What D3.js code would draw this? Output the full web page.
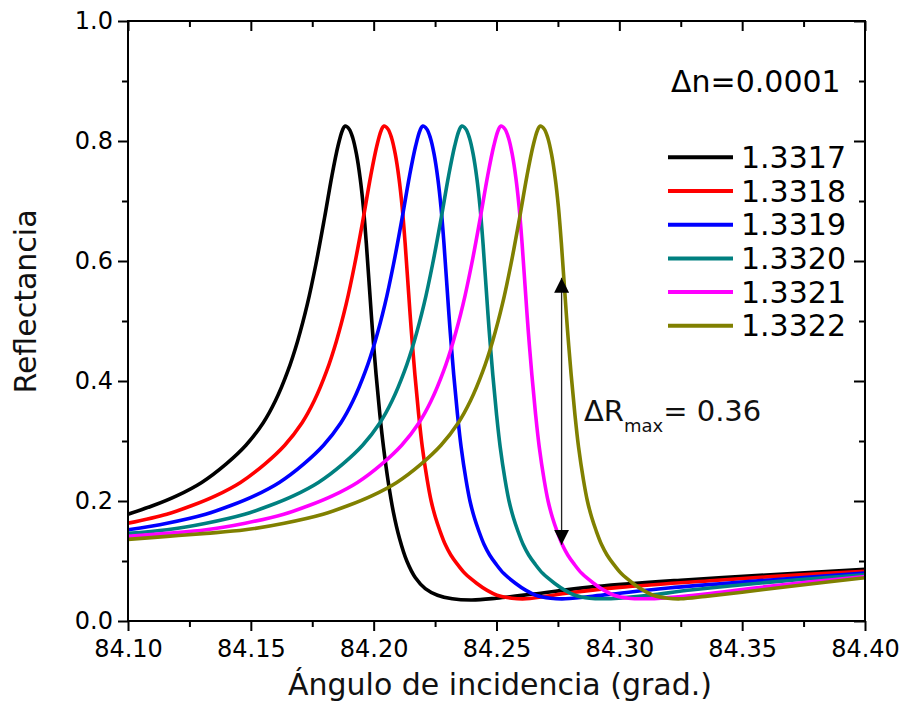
<!DOCTYPE html>
<html>
<head>
<meta charset="utf-8">
<script src="https://cdn.jsdelivr.net/npm/d3@7"></script>
<style>
  html, body { margin: 0; padding: 0; background: #fff; }
  svg { display: block; font-family: "DejaVu Sans", Verdana, sans-serif; }
</style>
</head>
<body>
<svg id="chart" width="915" height="713"></svg>
<script>
// ---------- data ----------
const seriesNames = ["1.3317", "1.3318", "1.3319", "1.3320", "1.3321", "1.3322"];
const seriesColors = ["#000000", "#ff0000", "#0000ff", "#008080", "#ff00ff", "#808000"];

const s13317 = [[84.100,0.178],[84.110,0.192],[84.120,0.209],[84.130,0.231],[84.140,0.262],[84.148,0.293],[84.155,0.330],[84.160,0.367],[84.165,0.416],[84.169,0.466],[84.173,0.528],[84.1765,0.595],[84.180,0.672],[84.183,0.742],[84.1855,0.792],[84.1873,0.818],[84.1884,0.825],
  [84.1900,0.820],[84.1915,0.805],[84.1930,0.778],[84.1945,0.738],[84.1958,0.690],[84.1970,0.630],[84.1982,0.560],[84.1995,0.485],[84.2010,0.410],[84.2025,0.345],[84.2040,0.290],[84.2060,0.230],[84.2080,0.182],[84.2105,0.138],[84.2135,0.100],[84.2170,0.072],[84.2210,0.054],[84.2260,0.043],[84.2320,0.037],[84.2400,0.035],[84.2500,0.038],[84.2650,0.045],[84.2870,0.056],[84.3250,0.068],[84.3650,0.078],[84.4000,0.086]];
const s13318 = [[84.100,0.163],[84.1158,0.178],[84.1258,0.192],[84.1358,0.209],[84.1458,0.231],[84.1558,0.262],[84.1638,0.293],[84.1708,0.330],[84.1758,0.367],[84.1808,0.416],[84.1848,0.466],[84.1888,0.528],[84.1923,0.595],[84.1958,0.672],[84.1988,0.742],[84.2013,0.792],[84.2031,0.818],[84.2042,0.825],
  [84.2058,0.820],[84.2073,0.805],[84.2088,0.778],[84.2103,0.738],[84.2116,0.690],[84.2128,0.630],[84.2140,0.560],[84.2153,0.485],[84.2168,0.410],[84.2183,0.345],[84.2198,0.290],[84.2218,0.235],[84.2234,0.200],[84.2252,0.172],[84.2270,0.150],[84.2292,0.127],[84.2314,0.110],[84.2338,0.096],[84.2372,0.079],[84.2419,0.063],[84.2462,0.051],[84.2502,0.043],[84.2562,0.038],[84.2620,0.037],[84.2800,0.047],[84.3000,0.056],[84.3400,0.068],[84.3700,0.076],[84.4000,0.083]];
const s13319 = [[84.100,0.152],[84.1159,0.163],[84.1316,0.178],[84.1416,0.192],[84.1516,0.209],[84.1616,0.231],[84.1716,0.262],[84.1796,0.293],[84.1866,0.330],[84.1916,0.367],[84.1966,0.416],[84.2006,0.466],[84.2046,0.528],[84.2081,0.595],[84.2116,0.672],[84.2146,0.742],[84.2171,0.792],[84.2189,0.818],[84.2200,0.825],
  [84.2216,0.820],[84.2231,0.805],[84.2246,0.778],[84.2261,0.738],[84.2274,0.690],[84.2286,0.630],[84.2298,0.560],[84.2311,0.485],[84.2326,0.410],[84.2341,0.345],[84.2356,0.290],[84.2376,0.235],[84.2392,0.200],[84.2410,0.172],[84.2428,0.150],[84.2450,0.127],[84.2472,0.110],[84.2496,0.096],[84.2530,0.079],[84.2577,0.063],[84.2620,0.051],[84.2660,0.043],[84.2720,0.038],[84.2780,0.037],[84.2950,0.044],[84.3200,0.055],[84.3600,0.068],[84.4000,0.080]];
const s13320 = [[84.100,0.146],[84.1159,0.152],[84.1318,0.163],[84.1475,0.178],[84.1575,0.192],[84.1675,0.209],[84.1775,0.231],[84.1875,0.262],[84.1955,0.293],[84.2025,0.330],[84.2075,0.367],[84.2125,0.416],[84.2165,0.466],[84.2205,0.528],[84.2240,0.595],[84.2275,0.672],[84.2305,0.742],[84.2330,0.792],[84.2348,0.818],[84.2359,0.825],
  [84.2375,0.820],[84.2390,0.805],[84.2405,0.778],[84.2420,0.738],[84.2433,0.690],[84.2445,0.630],[84.2457,0.560],[84.2470,0.485],[84.2485,0.410],[84.2500,0.345],[84.2515,0.290],[84.2535,0.235],[84.2551,0.200],[84.2569,0.172],[84.2587,0.150],[84.2609,0.127],[84.2631,0.110],[84.2655,0.096],[84.2689,0.079],[84.2736,0.063],[84.2779,0.051],[84.2819,0.043],[84.2879,0.038],[84.2940,0.037],[84.3080,0.041],[84.3300,0.052],[84.3650,0.066],[84.4000,0.077]];
const s13321 = [[84.100,0.141],[84.1159,0.146],[84.1318,0.152],[84.1477,0.163],[84.1634,0.178],[84.1734,0.192],[84.1834,0.209],[84.1934,0.231],[84.2034,0.262],[84.2114,0.293],[84.2184,0.330],[84.2234,0.367],[84.2284,0.416],[84.2324,0.466],[84.2364,0.528],[84.2399,0.595],[84.2434,0.672],[84.2464,0.742],[84.2489,0.792],[84.2507,0.818],[84.2518,0.825],
  [84.2534,0.820],[84.2549,0.805],[84.2564,0.778],[84.2579,0.738],[84.2592,0.690],[84.2604,0.630],[84.2616,0.560],[84.2629,0.485],[84.2644,0.410],[84.2659,0.345],[84.2674,0.290],[84.2694,0.235],[84.2710,0.200],[84.2728,0.172],[84.2746,0.150],[84.2768,0.127],[84.2790,0.110],[84.2814,0.096],[84.2848,0.079],[84.2895,0.063],[84.2938,0.051],[84.2978,0.043],[84.3038,0.038],[84.3100,0.037],[84.3200,0.039],[84.3350,0.045],[84.3550,0.055],[84.3800,0.066],[84.4000,0.074]];
const s13322 = [[84.100,0.136],[84.1159,0.141],[84.1318,0.146],[84.1477,0.152],[84.1636,0.163],[84.1794,0.178],[84.1894,0.192],[84.1994,0.209],[84.2094,0.231],[84.2194,0.262],[84.2274,0.293],[84.2344,0.330],[84.2394,0.367],[84.2444,0.416],[84.2484,0.466],[84.2524,0.528],[84.2559,0.595],[84.2594,0.672],[84.2624,0.742],[84.2649,0.792],[84.2667,0.818],[84.2678,0.825],
  [84.2694,0.820],[84.2709,0.805],[84.2724,0.778],[84.2739,0.738],[84.2752,0.690],[84.2764,0.630],[84.2776,0.560],[84.2789,0.485],[84.2804,0.410],[84.2819,0.345],[84.2834,0.290],[84.2854,0.235],[84.2870,0.200],[84.2888,0.172],[84.2906,0.150],[84.2928,0.127],[84.2950,0.110],[84.2974,0.096],[84.3008,0.079],[84.3055,0.063],[84.3098,0.051],[84.3138,0.043],[84.3198,0.038],[84.3250,0.037],[84.3350,0.041],[84.3500,0.048],[84.3700,0.058],[84.4000,0.072]];
const seriesValues = [s13317, s13318, s13319, s13320, s13321, s13322];

const xTicks = [84.10, 84.15, 84.20, 84.25, 84.30, 84.35, 84.40];
const xMinorTicks = [84.125, 84.175, 84.225, 84.275, 84.325, 84.375];
const yTicks = [0.0, 0.2, 0.4, 0.6, 0.8, 1.0];
const yMinorTicks = [0.1, 0.3, 0.5, 0.7, 0.9];

const xTitle = "Ángulo de incidencia (grad.)";
const yTitle = "Reflectancia";
const legendTitle = "\u0394n=0.0001";
const arrowX = 84.2765, arrowTop = 0.572, arrowBottom = 0.127;
const annotationPos = [84.2856, 0.334];

// ---------- layout ----------
const svg = d3.select("#chart");
const L = 128, R = 865, T = 21, B = 621;
const x = d3.scaleLinear().domain([84.10, 84.40]).range([L, R]);
const y = d3.scaleLinear().domain([0, 1]).range([B, T]);

const defs = svg.append("defs");
defs.append("clipPath").attr("id", "clip")
  .append("rect").attr("x", L).attr("y", T).attr("width", R - L).attr("height", B - T);

// curves
const line = d3.line().x(d => x(d[0])).y(d => y(d[1])).curve(d3.curveCatmullRom.alpha(0.5));
const curves = svg.append("g").attr("clip-path", "url(#clip)");
seriesValues.forEach((s, i) => {
  curves.append("path").attr("d", line(s)).attr("fill", "none")
    .attr("stroke", seriesColors[i]).attr("stroke-width", 3.6)
    .attr("stroke-linejoin", "round");
});

// axes
const fs = 24;
svg.append("g").attr("transform", `translate(0,${B})`)
  .call(d3.axisBottom(x).tickValues(xTicks).tickSize(10).tickPadding(9).tickFormat(d3.format(".2f")));
svg.append("g").attr("transform", `translate(${L},0)`)
  .call(d3.axisLeft(y).tickValues(yTicks).tickSize(10).tickPadding(5).tickFormat(d3.format(".1f")));
svg.append("g").attr("transform", `translate(0,${T})`)
  .call(d3.axisTop(x).tickValues(xTicks).tickSize(-10).tickFormat(""));
svg.append("g").attr("transform", `translate(${R},0)`)
  .call(d3.axisRight(y).tickValues(yTicks).tickSize(-11).tickFormat(""));
// minor ticks
svg.append("g").attr("transform", `translate(0,${B})`)
  .call(d3.axisBottom(x).tickValues(xMinorTicks).tickSize(6).tickFormat(""));
svg.append("g").attr("transform", `translate(${L},0)`)
  .call(d3.axisLeft(y).tickValues(yMinorTicks).tickSize(6).tickFormat(""));
svg.append("g").attr("transform", `translate(0,${T})`)
  .call(d3.axisTop(x).tickValues(xMinorTicks).tickSize(-6).tickFormat(""));
svg.append("g").attr("transform", `translate(${R},0)`)
  .call(d3.axisRight(y).tickValues(yMinorTicks).tickSize(-6).tickFormat(""));

svg.selectAll(".domain").remove();
svg.selectAll(".tick line").attr("stroke", "#000").attr("stroke-width", 2);
svg.selectAll(".tick text").attr("fill", "#000").style("font-size", fs + "px")
  .style("font-family", "'DejaVu Sans', Verdana, sans-serif");

// frame
svg.append("rect").attr("x", L).attr("y", T).attr("width", R - L).attr("height", B - T)
  .attr("fill", "none").attr("stroke", "#000").attr("stroke-width", 2);

// titles
svg.append("text").attr("x", 500).attr("y", 695).attr("text-anchor", "middle")
  .style("font-size", "30px").attr("fill", "#111").text(xTitle);
svg.append("text").attr("transform", "translate(36,301.5) rotate(-90)").attr("text-anchor", "middle")
  .style("font-size", "30px").attr("fill", "#111").text(yTitle);

// legend
svg.append("text").attr("x", 671).attr("y", 92).style("font-size", "30px").attr("fill", "#000").text(legendTitle);
const legendRows = [157.3, 191, 224.7, 258.5, 292, 325.7];
seriesNames.forEach((n, i) => {
  const ly = legendRows[i];
  svg.append("line").attr("x1", 668).attr("x2", 733).attr("y1", ly).attr("y2", ly)
    .attr("stroke", seriesColors[i]).attr("stroke-width", 4);
  svg.append("text").attr("x", 741).attr("y", ly + 10.5).style("font-size", "30px")
    .attr("fill", "#000").text(n);
});

// arrow annotation
defs.append("marker").attr("id", "arr").attr("viewBox", "0 0 10 10")
  .attr("refX", 10).attr("refY", 5)
  .attr("markerWidth", 15).attr("markerHeight", 15).attr("markerUnits", "userSpaceOnUse")
  .attr("orient", "auto-start-reverse")
  .append("path").attr("d", "M0,0 L10,5 L0,10 z").attr("fill", "#000");
svg.append("line").attr("x1", x(arrowX)).attr("x2", x(arrowX))
  .attr("y1", y(arrowTop)).attr("y2", y(arrowBottom))
  .attr("stroke", "#222").attr("stroke-width", 1.3)
  .attr("marker-start", "url(#arr)").attr("marker-end", "url(#arr)");

const ann = svg.append("text").attr("x", x(annotationPos[0])).attr("y", y(annotationPos[1]))
  .style("font-size", "29px").attr("fill", "#111");
ann.append("tspan").text("\u0394R");
ann.append("tspan").attr("dy", 11).style("font-size", "18px").text("max");
ann.append("tspan").attr("dy", -11).text("= 0.36");
</script>
</body>
</html>
